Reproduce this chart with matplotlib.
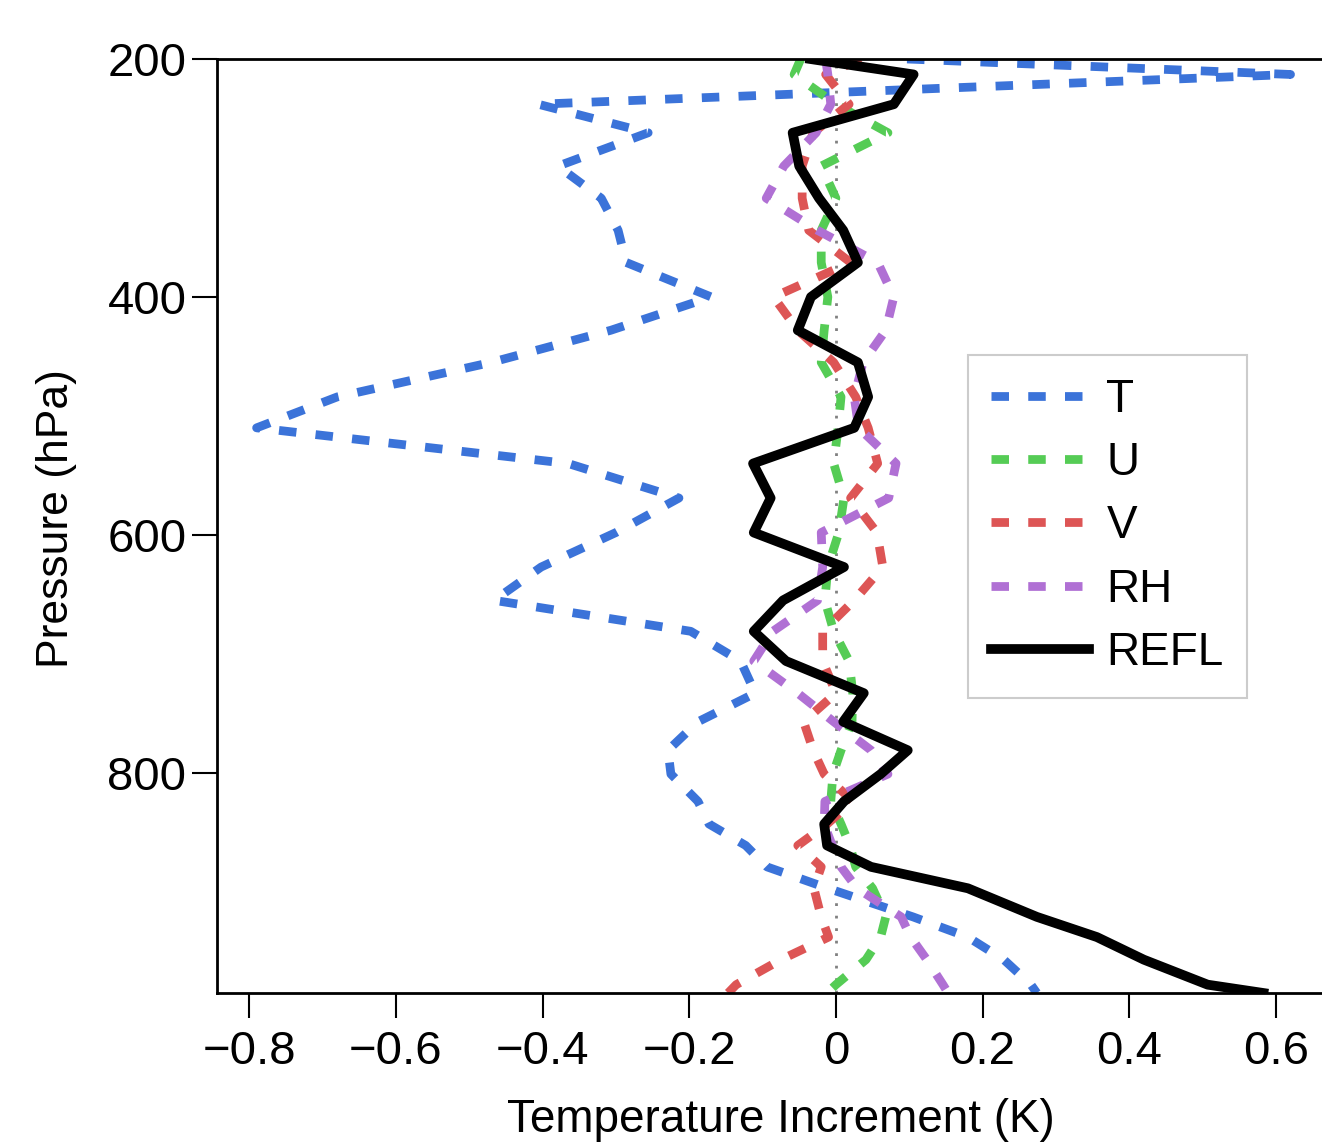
import matplotlib
matplotlib.use("Agg")
import matplotlib.pyplot as plt

plt.rcParams["font.family"] = ["Liberation Sans", "DejaVu Sans"]

# pressure levels (hPa)
pressure = [200, 213, 238, 262, 290, 317, 344, 371, 400, 428, 455, 484, 510,
            540, 569, 598, 627, 655, 681, 706, 733, 757, 781, 801, 824, 843,
            861, 879, 897, 921, 938, 957, 978, 985]

# temperature increments (K) for each single-observation experiment
inc_t = [0.097, 0.62, -0.406, -0.256, -0.379, -0.32, -0.297, -0.286, -0.17,
         -0.307, -0.47, -0.68, -0.79, -0.365, -0.214, -0.30, -0.402, -0.466,
         -0.198, -0.13, -0.11, -0.188, -0.229, -0.225, -0.188, -0.173, -0.123,
         -0.094, -0.011, 0.105, 0.18, 0.229, 0.266, 0.274]
inc_u = [-0.048, -0.057, 0.0, 0.071, -0.02, 0.0, -0.02, -0.02, -0.011, -0.016,
         -0.02, 0.007, 0.003, -0.003, 0.011, 0.004, -0.011, -0.015, -0.003,
         0.018, 0.023, 0.022, 0.007, -0.004, -0.007, 0.007, 0.019, 0.027, 0.05,
         0.068, 0.061, 0.041, 0.0, -0.012]
inc_v = [0.034, -0.014, 0.018, -0.031, -0.046, -0.046, -0.037, 0.02, -0.085,
         -0.052, -0.003, 0.027, 0.044, 0.057, 0.02, 0.056, 0.064, 0.025, -0.018,
         -0.018, 0.0, -0.044, -0.031, -0.016, 0.023, -0.012, -0.052, -0.02,
         -0.03, -0.02, -0.01, -0.075, -0.136, -0.147]
inc_rh = [-0.014, -0.011, -0.007, -0.027, -0.071, -0.095, -0.025, 0.057, 0.079,
          0.068, 0.037, 0.025, 0.031, 0.082, 0.072, -0.02, -0.018, -0.025,
          -0.086, -0.112, -0.052, -0.003, 0.048, 0.071, -0.015, -0.016, -0.005,
          0.007, 0.029, 0.089, 0.102, 0.124, 0.146, 0.153]
inc_refl = [-0.035, 0.106, 0.079, -0.059, -0.05, -0.023, 0.01, 0.03, -0.034,
            -0.052, 0.03, 0.044, 0.025, -0.113, -0.089, -0.112, 0.011, -0.072,
            -0.112, -0.068, 0.038, 0.01, 0.098, 0.061, 0.011, -0.016, -0.012,
            0.048, 0.18, 0.274, 0.356, 0.42, 0.507, 0.583]

xticks = [-0.8, -0.6, -0.4, -0.2, 0, 0.2, 0.4, 0.6]
xtick_labels = ["\u22120.8", "\u22120.6", "\u22120.4", "\u22120.2", "0", "0.2", "0.4", "0.6"]
yticks = [200, 400, 600, 800]

fig = plt.figure(figsize=(13.22, 11.42), dpi=100)
ax = fig.add_axes([217 / 1322, 1 - 993 / 1142, 1108 / 1322, 934 / 1142])

ax.axvline(0, color="gray", ls=(0, (1, 3.5)), lw=2, zorder=1)

dash = (0, (2, 2.2))
ax.plot(inc_t, pressure, color="#3b73d9", lw=6.3, ls=dash, label="T")
ax.plot(inc_u, pressure, color="#55cc55", lw=6.3, ls=dash, label="U")
ax.plot(inc_v, pressure, color="#dd5555", lw=6.3, ls=dash, label="V")
ax.plot(inc_rh, pressure, color="#b070d4", lw=6.3, ls=dash, label="RH")
ax.plot(inc_refl, pressure, color="black", lw=7, label="REFL")

ax.set_xlim(-0.844, 0.667)
ax.set_ylim(985, 200)
ax.set_xticks(xticks)
ax.set_xticklabels(xtick_labels)
ax.set_yticks(yticks)
ax.tick_params(labelsize=34, direction="out", length=18, width=1.5)
ax.tick_params(axis="x", pad=9)
ax.tick_params(axis="y", pad=4)
for s in ax.spines.values():
    s.set_linewidth(2)
ax.spines["right"].set_visible(False)

ax.set_xlabel("Temperature Increment (K)", fontsize=33, labelpad=17)
ax.set_ylabel("Pressure (hPa)", fontsize=32, labelpad=22)
ax.xaxis.label.set_x(0.509)
ax.yaxis.label.set_y(0.508)

leg = ax.legend(loc="upper left", bbox_to_anchor=(968 / 1322, 1 - 355 / 1142),
                bbox_transform=fig.transFigure, borderaxespad=0, fontsize=33,
                handlelength=2.14, handletextpad=0.38, labelspacing=0.42,
                borderpad=0.5, fancybox=False, framealpha=1)
leg.get_frame().set_edgecolor("#cccccc")
leg.get_frame().set_linewidth(1.5)

fig.savefig("out.png", dpi=100)
